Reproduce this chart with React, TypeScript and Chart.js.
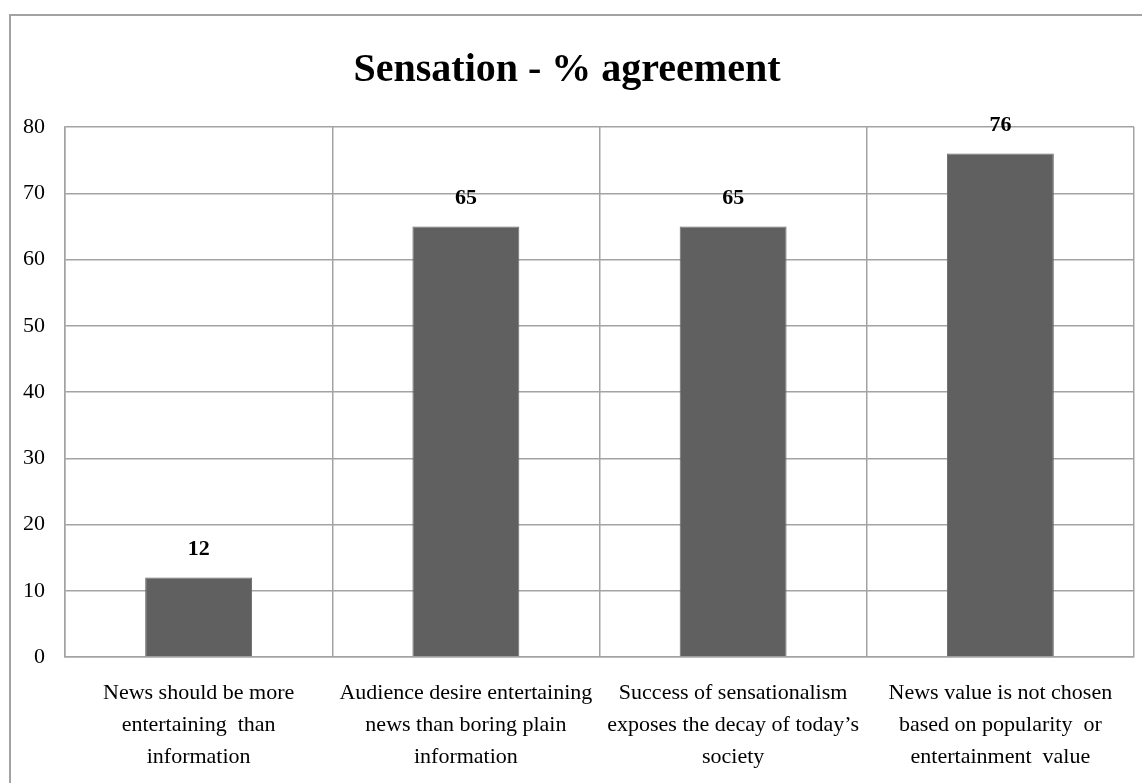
import React, { useEffect, useRef } from "react";
import { Chart, registerables } from "chart.js";

Chart.register(...registerables);

const titleText = "Sensation - % agreement";
const categories: string[][] = [
  ["News should be more", "entertaining  than", "information"],
  ["Audience desire entertaining", "news than boring plain", "information"],
  ["Success of sensationalism", "exposes the decay of today\u2019s", "society"],
  ["News value is not chosen", "based on popularity  or", "entertainment  value"],
];
const agreement: number[] = [12, 65, 65, 76];
const yTicks = { min: 0, max: 80, step: 10 };

const FONT = "'Liberation Serif', 'DejaVu Serif', serif";
const GRID = "#a3a3a3";
const BAR = "#606060";

export default function App() {
  const ref = useRef<HTMLCanvasElement | null>(null);

  useEffect(() => {
    const canvas = ref.current;
    if (!canvas) return;

    const frame = {
      id: "outerFrame",
      beforeDraw(chart: any) {
        const ctx = chart.ctx;
        ctx.save();
        ctx.fillStyle = "#ffffff";
        ctx.fillRect(0, 0, chart.width, chart.height);
        ctx.strokeStyle = GRID;
        ctx.lineWidth = 2;
        ctx.beginPath();
        ctx.moveTo(10, chart.height);
        ctx.lineTo(10, 15);
        ctx.lineTo(chart.width, 15);
        ctx.stroke();
        ctx.restore();
      },
    };

    const labels = {
      id: "valueLabels",
      afterDatasetsDraw(chart: any) {
        const ctx = chart.ctx;
        const meta = chart.getDatasetMeta(0);
        ctx.save();
        ctx.font = `bold 22px ${FONT}`;
        ctx.fillStyle = "#000000";
        ctx.textAlign = "center";
        ctx.textBaseline = "middle";
        meta.data.forEach((el: any, i: number) => {
          ctx.fillText(String(chart.data.datasets[0].data[i]), el.x, el.y - 28);
        });
        ctx.restore();
      },
    };

    const chart = new Chart(canvas, {
      type: "bar",
      data: {
        labels: categories,
        datasets: [
          {
            label: "% agreement",
            data: agreement,
            backgroundColor: BAR,
            borderColor: "#6a6a6a",
            borderWidth: 1,
            barPercentage: 0.4,
            categoryPercentage: 1,
          },
        ],
      },
      options: {
        animation: false,
        responsive: false,
        maintainAspectRatio: false,
        layout: { padding: { left: 0, right: 8, top: 0, bottom: 0 } },
        plugins: {
          legend: { display: false },
          tooltip: { enabled: false },
          title: {
            display: true,
            text: titleText,
            color: "#000000",
            font: { family: FONT, size: 40, weight: "bold", lineHeight: 1.2 },
            padding: { top: 47, bottom: 32 },
          },
        },
        scales: {
          x: {
            offset: true,
            grid: {
              offset: true,
              color: GRID,
              lineWidth: 1.5,
              drawTicks: false,
            },
            border: { color: GRID, width: 1.5 },
            ticks: {
              color: "#000000",
              font: { family: FONT, size: 22, lineHeight: 1.45 },
              padding: 20,
              maxRotation: 0,
              autoSkip: false,
            },
            afterFit(scale: any) {
              scale.height = 126;
            },
          },
          y: {
            min: yTicks.min,
            max: yTicks.max,
            grid: { color: GRID, lineWidth: 1.5, drawTicks: false },
            border: { color: GRID, width: 1.5 },
            ticks: {
              stepSize: yTicks.step,
              color: "#000000",
              font: { family: FONT, size: 22 },
              padding: 20,
            },
            afterFit(scale: any) {
              scale.width = 65;
            },
          },
        },
      },
      plugins: [frame, labels],
    } as any);

    return () => chart.destroy();
  }, []);

  return (
    <div style={{ position: "fixed", left: 0, top: 0, width: 1142, height: 783, background: "#fff" }}>
      <canvas ref={ref} width={1142} height={783} style={{ display: "block" }} />
    </div>
  );
}
